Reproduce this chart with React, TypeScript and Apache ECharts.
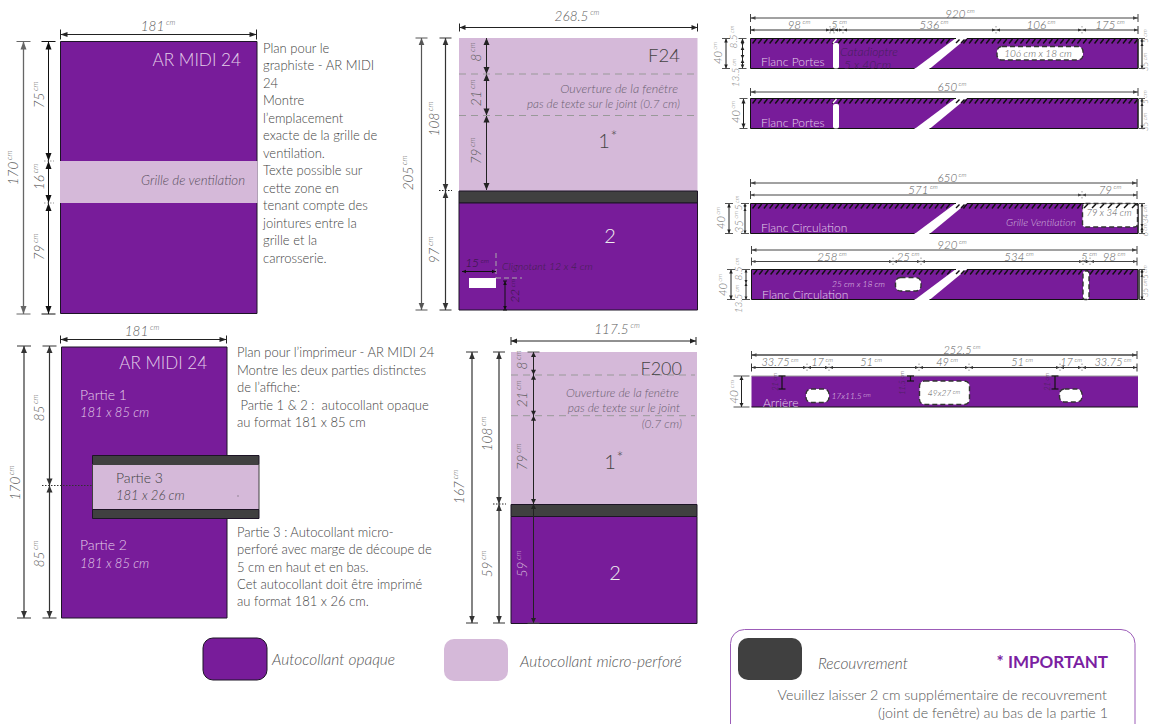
import React, { useEffect, useRef } from "react";
import * as echarts from "echarts";

// ---------- values (centimetres and texts) ----------
const armidiTotalCm = ["181", "170"];
const armidiHeightsCm = ["75", "16", "79"];
const armidiPartsCm = ["85", "85"];
const f24TotalCm = ["268.5", "205"];
const f24MainCm = ["108", "97"];
const f24InnerCm = ["8", "21", "79"];
const f24BlinkerCm = ["15", "22"];
const f200TotalCm = ["117.5", "167"];
const f200MainCm = ["108", "59"];
const f200InnerCm = ["8", "21", "79", "59"];
const portesTopCm = ["920", "650"];
const portesSegmentsCm = ["98", "5", "536", "106", "175"];
const stripHeightsCm = ["40", "8.5", "13.5", "5", "35"];
const circTopCm = ["650", "920"];
const circ1SegmentsCm = ["571", "79"];
const circ1SideCm = ["34", "6"];
const circ2SegmentsCm = ["258", "25", "534", "5", "98"];
const rearTotalCm = ["252.5"];
const rearSegmentsCm = ["33.75", "17", "51", "49", "51", "17", "33.75"];
const rearDropsCm = ["21", "11.5", "21"];
const rearHoleLabels = ["17x11.5", "49x27"];

const planGraphisteLines = ["Plan pour le", "graphiste - AR MIDI", "24", "Montre", "l’emplacement", "exacte de la grille de", "ventilation.", "Texte possible sur", "cette zone en", "tenant compte des", "jointures entre la", "grille et la", "carrosserie."];
const planImprimeurLines = ["Plan pour l’imprimeur - AR MIDI 24", "Montre les deux parties distinctes", "de l’affiche:", " Partie 1 & 2 :  autocollant opaque", "au format 181 x 85 cm"];
const partie3Lines = ["Partie 3 : Autocollant micro-", "perforé avec marge de découpe de", "5 cm en haut et en bas.", "Cet autocollant doit être imprimé", "au format 181 x 26 cm."];
const legendLabels = ["Autocollant opaque", "Autocollant micro-perforé", "Recouvrement"];
const importantLines = ["* IMPORTANT", "Veuillez laisser 2 cm supplémentaire de recouvrement", "(joint de fenêtre) au bas de la partie 1"];

// ---------- styles ----------
const PURPLE = "#781c9a";
const LIGHT = "#d5b9d9";
const DARK = "#404040";
const EDGE = "#1d1426";
const INK = "#444444";
const GREY = "#5c5c5c";
const PALE = "#e3cfe9";
const FONT = "Lato";

type Mark = any;
const marks: Mark[] = [];

const rect = (x: number, y: number, w: number, h: number, fill: string, o: any = {}) => marks.push({ k: "rect", x, y, w, h, fill, ...o });
const line = (x1: number, y1: number, x2: number, y2: number, stroke: string, lw = 1, dash?: number[]) => marks.push({ k: "line", x1, y1, x2, y2, stroke, lw, dash });
const poly = (pts: number[][], fill: string) => marks.push({ k: "poly", pts, fill });
const text = (x: number, y: number, t: string, o: any = {}) => marks.push({ k: "text", x, y, t, size: 13, color: INK, align: "left", ...o });
const dim = (x: number, y: number, v: string, o: any = {}) => marks.push({ k: "dim", x, y, v, size: 13.5, color: GREY, ...o });

// chain of horizontal dimension arrows
function hChain(y: number, xs: number[], color = "#222", tick = 4, alen = 6, ah = 2.5, lw = 1) {
  line(xs[0], y, xs[xs.length - 1], y, color, lw);
  line(xs[0], y - tick, xs[0], y + tick, color, 1);
  line(xs[xs.length - 1], y - tick, xs[xs.length - 1], y + tick, color, 1);
  for (let i = 0; i + 1 < xs.length; i++) {
    poly([[xs[i], y], [xs[i] + alen, y - ah], [xs[i] + alen, y + ah]], color);
    poly([[xs[i + 1], y], [xs[i + 1] - alen, y - ah], [xs[i + 1] - alen, y + ah]], color);
    if (i > 0) line(xs[i], y - 4, xs[i], y + 4, "#999", 1, [1.5, 1.5]);
  }
}
// chain of vertical dimension arrows
function vChain(x: number, ys: number[], color = "#222", tick = 7, alen = 7, ah = 3, lw = 1) {
  line(x, ys[0], x, ys[ys.length - 1], color, lw);
  line(x - tick, ys[0], x + tick, ys[0], color === "#222" ? "#555" : color, 1);
  line(x - tick, ys[ys.length - 1], x + tick, ys[ys.length - 1], color === "#222" ? "#555" : color, 1);
  for (let i = 0; i + 1 < ys.length; i++) {
    poly([[x, ys[i]], [x - ah, ys[i] + alen], [x + ah, ys[i] + alen]], color);
    poly([[x, ys[i + 1]], [x - ah, ys[i + 1] - alen], [x + ah, ys[i + 1] - alen]], color);
  }
}
const outline = (x: number, y: number, w: number, h: number, lw = 1) => rect(x, y, w, h, "none", { stroke: EDGE, lw });

// long side panels of the vehicle
function strip(x0: number, x1: number, y0: number, y1: number, diagonal = true) {
  rect(x0, y0, x1 - x0, y1 - y0, PURPLE);
  for (let x = x0 + 2; x < x1 - 3; x += 5.7) line(x, y0 + 5, x + 3.5, y0 + 0.5, "#111", 1.4);
  if (diagonal) {
    poly([[914.5, y1 + 0.5], [929.5, y1 + 0.5], [967, y0 - 0.5], [956, y0 - 0.5]], "#ffffff");
    line(956, y0 + 4.5, 959.5, y0 + 1, "#111", 1.4);
    line(961, y0 + 4.5, 964.5, y0 + 1, "#111", 1.4);
  }
  line(x0, y0, diagonal ? 956 : x1, y0, "#111", 1);
  if (diagonal) line(967, y0, x1, y0, "#111", 1);
  line(x0, y1, diagonal ? 914.5 : x1, y1, "#111", 1);
  if (diagonal) line(929.5, y1, x1, y1, "#111", 1);
  line(x0, y0, x0, y1, "#111", 1);
  line(x1, y0, x1, y1, "#222", 1.6);
}
const hole = (x: number, y: number, w: number, h: number, r = 5) => rect(x, y, w, h, "#ffffff", { stroke: "#333", lw: 1.4, dash: [5, 3], r });
const sDim = { size: 11.5, color: GREY };
const sideDim = { size: 10, color: "#808080", rot: 90 };
const edgeDim = { size: 8, color: "#808080", rot: 90 };

function panelArMidiTop() {
  rect(60.5, 41.5, 196.5, 272, PURPLE);
  outline(60.5, 41.5, 196.5, 272);
  rect(60, 161, 197.5, 42, LIGHT);
  hChain(34.5, [60.5, 256.5], "#222", 5, 7, 2.5);
  dim(158, 26, armidiTotalCm[0]);
  vChain(23.5, [41.5, 314], "#666", 7, 8, 3, 1.3);
  vChain(48.5, [41.5, 161, 203, 314], "#111", 7, 8, 3);
  line(44, 161, 54, 161, "#999", 1, [1.5, 1.5]);
  line(44, 203, 54, 203, "#999", 1, [1.5, 1.5]);
  dim(13, 168, armidiTotalCm[1], { rot: 90 });
  dim(39, 95, armidiHeightsCm[0], { rot: 90 });
  dim(39, 177, armidiHeightsCm[1], { rot: 90 });
  dim(39, 247, armidiHeightsCm[2], { rot: 90 });
  text(241, 59, "AR MIDI 24", { size: 17.2, color: PALE, align: "right" });
  text(245, 180, "Grille de ventilation", { size: 13.3, italic: true, color: "#5a5060", align: "right" });
  planGraphisteLines.forEach((l, i) => text(263, 47.5 + i * 17.5, l));
}

function panelF24() {
  rect(459, 38, 238.5, 153, LIGHT);
  rect(459, 191, 238.5, 12, DARK, { stroke: EDGE, lw: 1 });
  rect(459, 203, 238.5, 107, PURPLE, { stroke: EDGE, lw: 1 });
  hChain(27.5, [459.5, 697.5], "#222", 4, 6, 2.5);
  dim(577, 16, f24TotalCm[0]);
  vChain(421.5, [38, 310], "#555", 6, 7, 2.8, 1.2);
  vChain(445.5, [38, 191, 310], "#333", 6, 7, 2.8, 1.2);
  line(439, 190.5, 452, 190.5, "#222", 1, [1.5, 1.5]);
  dim(408, 173, f24TotalCm[1], { rot: 90 });
  dim(434, 119, f24MainCm[0], { rot: 90 });
  dim(434, 250, f24MainCm[1], { rot: 90 });
  vChain(486.5, [38, 74, 115.5, 190], "#222", 0, 7, 3);
  line(459, 74, 695, 74, "#999", 1, [7, 5]);
  line(459, 115.5, 695, 115.5, "#999", 1, [7, 5]);
  dim(476, 52, f24InnerCm[0], { rot: 90 });
  dim(476, 93, f24InnerCm[1], { rot: 90 });
  dim(476, 151, f24InnerCm[2], { rot: 90 });
  text(680, 55, "F24", { size: 18.5, align: "right" });
  text(678, 88, "Ouverture de la fenêtre", { size: 12.5, italic: true, color: "#6a6070", align: "right" });
  text(680, 103, "pas de texte sur le joint (0.7 cm)", { size: 11.8, italic: true, color: "#6a6070", align: "right" });
  text(604, 140, "1", { size: 20, align: "center" });
  text(614, 135, "*", { size: 16, align: "center" });
  text(610, 235, "2", { size: 20, color: "#eeeeee", align: "center" });
  rect(469, 278, 27, 10, "#ffffff");
  line(496, 253, 496, 278, "#aaa", 1, [5, 3]);
  line(496, 278, 522, 278, "#aaa", 1, [5, 3]);
  hChain(271.5, [462, 496], "#111", 0, 4, 1.8);
  dim(477, 262, f24BlinkerCm[0], { color: "#2d1738", size: 12 });
  text(502, 266, "Clignotant 12 x 4 cm", { size: 10.5, italic: true, color: "#3d2149" });
  vChain(505, [281, 310], "#111", 2, 4, 1.8);
  dim(514, 291, f24BlinkerCm[1], { rot: 90, color: "#2d1738", size: 12 });
}

function panelPortes1() {
  strip(750.5, 1138, 38.5, 68.5);
  rect(833, 43, 6, 25.5, "#ffffff", { r: 2 });
  line(833, 43, 836.5, 39, "#fff", 1.5);
  hChain(18, [750.5, 1138], "#444", 4, 5, 1.8);
  dim(960, 13, portesTopCm[0], sDim);
  hChain(30, [750.5, 830, 834, 843, 996, 1082, 1138], "#333", 4, 4, 1.5);
  [799, 839, 934, 1041, 1110].forEach((x, i) => dim(x, 24, portesSegmentsCm[i], sDim));
  vChain(726, [38.5, 68.5], "#222", 4, 4, 1.8);
  vChain(742.5, [38.5, 46, 59, 68.5], "#222", 4, 4, 1.8);
  dim(717, 53, stripHeightsCm[0], { ...sideDim, size: 11 });
  dim(733, 37, stripHeightsCm[1], sideDim);
  dim(735, 73, stripHeightsCm[2], sideDim);
  vChain(1142, [38.5, 43, 68.5], "#222", 3, 3, 1.5);
  dim(1145, 36, stripHeightsCm[3], edgeDim);
  dim(1145, 62, stripHeightsCm[4], edgeDim);
  text(761, 61, "Flanc Portes", { size: 12, color: PALE });
  text(840, 51, "Catadioptre", { size: 12, italic: true, color: "#45205a" });
  text(844, 64, "5 x 40cm", { size: 12, italic: true, color: "#45205a" });
  hole(997, 46.5, 86, 13.5);
  text(1038, 53, "106 cm x 18 cm", { size: 10, italic: true, align: "center", color: "#555" });
}

function panelPortes2() {
  strip(750.5, 1138, 98.5, 128.5);
  rect(833, 104, 6, 24.5, "#ffffff", { r: 2 });
  line(833, 103, 836.5, 99, "#fff", 1.5);
  hChain(92, [750.5, 1138], "#444", 4, 5, 1.8);
  dim(952, 86, portesTopCm[1], sDim);
  vChain(743.5, [98.5, 128.5], "#222", 4, 5, 2);
  dim(735, 112, stripHeightsCm[0], { ...sideDim, size: 11 });
  vChain(1142, [98.5, 103, 128.5], "#222", 3, 3, 1.5);
  dim(1145, 97, stripHeightsCm[3], edgeDim);
  dim(1145, 122, stripHeightsCm[4], edgeDim);
  text(761, 122, "Flanc Portes", { size: 12, color: PALE });
}

function panelCirculation1() {
  strip(750.5, 1138, 203.5, 233.5);
  rect(1082.5, 203.5, 55, 23.5, "#ffffff", { stroke: "#333", lw: 1.4, dash: [5, 3], r: 3 });
  for (let x = 1084; x < 1134; x += 8) line(x, 208, x + 4, 204, "#111", 1.4);
  hChain(183, [750.5, 1137], "#444", 4, 5, 1.8);
  dim(952, 177.5, circTopCm[0], sDim);
  hChain(195, [750.5, 1082, 1137], "#444", 4, 4, 1.5);
  dim(923, 189.5, circ1SegmentsCm[0], sDim);
  dim(1110, 189, circ1SegmentsCm[1], sDim);
  vChain(729, [203.5, 233.5], "#222", 4, 4, 1.8);
  vChain(745, [203.5, 208, 233.5], "#222", 4, 3, 1.5);
  dim(720, 218, stripHeightsCm[0], { ...sideDim, size: 11 });
  dim(738, 203, stripHeightsCm[3], sideDim);
  dim(738, 222, stripHeightsCm[4], { ...sideDim, size: 11 });
  vChain(1142, [203.5, 227, 233.5], "#222", 3, 3, 1.5);
  dim(1145, 214, circ1SideCm[0], edgeDim);
  dim(1145, 230, circ1SideCm[1], edgeDim);
  text(761, 227, "Flanc Circulation", { size: 12, color: PALE });
  text(1076, 221.5, "Grille Ventilation", { size: 10.5, italic: true, color: "#cfb6db", align: "right" });
  text(1109, 212.5, "79 x 34 cm", { size: 9.5, italic: true, color: "#555", align: "center" });
}

function panelCirculation2() {
  strip(751.5, 1138, 269.5, 299.5);
  line(1139.5, 269.5, 1139.5, 299.5, "#555", 1);
  hole(895.5, 277.5, 25.5, 13.5);
  hole(1083, 271, 6, 28.5, 2);
  hChain(250, [751.5, 1137], "#444", 4, 5, 1.8);
  dim(952, 244, circTopCm[1], sDim);
  hChain(261.5, [751.5, 893, 921, 1083, 1090, 1137], "#444", 4, 4, 1.5);
  [832, 908, 1019, 1089, 1114].forEach((x, i) => dim(x, 256, circ2SegmentsCm[i], sDim));
  vChain(731, [269.5, 299.5], "#222", 4, 4, 1.8);
  vChain(746, [269.5, 283, 299.5], "#222", 4, 3, 1.5);
  dim(722, 285, stripHeightsCm[0], { ...sideDim, size: 11 });
  dim(738, 269, stripHeightsCm[1], sideDim);
  dim(738, 299, stripHeightsCm[2], sideDim);
  vChain(1142, [269.5, 274, 299.5], "#222", 3, 3, 1.5);
  dim(1145, 272, stripHeightsCm[3], edgeDim);
  dim(1145, 288, stripHeightsCm[4], edgeDim);
  text(762, 294, "Flanc Circulation", { size: 12, color: PALE });
  text(885, 283.5, "25 cm x 18 cm", { size: 8.5, italic: true, color: PALE, align: "right" });
}

function panelRear() {
  rect(751.5, 376, 386.5, 31, PURPLE);
  line(751.5, 376, 1138, 376, "#999", 1);
  line(751.5, 407, 1138, 407, "#111", 1);
  hChain(355, [751.5, 1137], "#444", 4, 5, 1.8, 1.3);
  dim(962, 349, rearTotalCm[0], { ...sDim, size: 11 });
  hChain(367.5, [751.5, 807, 829, 919, 969, 1060, 1082, 1137], "#333", 4, 4, 1.5);
  [780, 822, 871, 947, 1022, 1071, 1113].forEach((x, i) => dim(x, 361.5, rearSegmentsCm[i], { ...sDim, size: 11 }));
  vChain(741.5, [376, 407], "#222", 8, 4, 2);
  dim(733, 392, stripHeightsCm[0], { ...sideDim, size: 12 });
  hole(806, 389, 23, 13.5);
  hole(919.5, 381, 50, 23.5);
  hole(1059.5, 389, 22.5, 13);
  [[782, 389], [910.5, 381], [1055, 389]].forEach(([x, y]) => {
    line(x, 376, x, y, "#111", 1.2);
    line(x - 3.5, 376, x + 3.5, 376, "#111", 1.2);
    line(x - 3.5, y, x + 3.5, y, "#111", 1.2);
  });
  dim(775, 382, rearDropsCm[0], { rot: 90, size: 7.5, color: "#3a2545" });
  dim(902, 383, rearDropsCm[1], { rot: 90, size: 7.5, color: "#3a2545" });
  dim(1047, 382, rearDropsCm[2], { rot: 90, size: 7.5, color: "#3a2545" });
  text(763, 402, "Arrière", { size: 12, color: PALE });
  dim(851, 396, rearHoleLabels[0], { size: 8.5, color: PALE });
  dim(944, 393, rearHoleLabels[1], { size: 8.5, color: "#555" });
}

function panelPrinter() {
  rect(61.5, 347, 165.5, 271, PURPLE);
  outline(61.5, 347, 165.5, 271);
  hChain(339.5, [60.5, 226.5], "#222", 4, 7, 2.5);
  dim(142, 331, armidiTotalCm[0]);
  vChain(24, [346, 618], "#333", 7, 7, 3, 1.2);
  vChain(49.5, [346, 485.5, 618], "#333", 7, 7, 3, 1.2);
  line(42, 485.5, 93, 485.5, "#333", 1, [1.5, 1.5]);
  dim(15, 483, armidiTotalCm[1], { rot: 90 });
  dim(39, 408, armidiPartsCm[0], { rot: 90 });
  dim(39, 554, armidiPartsCm[1], { rot: 90 });
  text(207, 362, "AR MIDI 24", { size: 17, color: PALE, align: "right" });
  text(80, 394, "Partie 1", { size: 14, color: PALE });
  text(80, 412, "181 x 85 cm", { italic: true, color: PALE });
  text(80, 544, "Partie 2", { size: 14, color: PALE });
  text(80, 563, "181 x 85 cm", { italic: true, color: PALE });
  rect(92.5, 455.5, 166.5, 9, DARK, { stroke: EDGE, lw: 1 });
  rect(92.5, 464.5, 166.5, 45, LIGHT, { stroke: DARK, lw: 1 });
  rect(92.5, 509.5, 166.5, 9, DARK, { stroke: EDGE, lw: 1 });
  text(116, 477, "Partie 3", { size: 14 });
  text(116, 495, "181 x 26 cm", { italic: true });
  rect(237.5, 495.5, 1, 1, "#555");
  planImprimeurLines.forEach((l, i) => text(237, 352 + i * 17.5, l));
  partie3Lines.forEach((l, i) => text(237, 532 + i * 17.3, l));
}

function panelF200() {
  rect(511, 352, 186, 152.5, LIGHT);
  rect(511, 504.5, 186, 12, DARK, { stroke: EDGE, lw: 1 });
  rect(511, 516.5, 186, 107, PURPLE, { stroke: EDGE, lw: 1 });
  hChain(341, [511, 696], "#222", 4, 6, 2.5);
  dim(617, 329, f200TotalCm[0]);
  vChain(472, [352, 623], "#333", 6, 7, 2.8, 1.2);
  vChain(499, [352, 504, 623], "#333", 6, 7, 2.8, 1.2);
  line(493, 504, 506, 504, "#222", 1, [1.5, 1.5]);
  dim(459, 487, f200TotalCm[1], { rot: 90 });
  dim(487, 434, f200MainCm[0], { rot: 90 });
  dim(487, 564, f200MainCm[1], { rot: 90 });
  line(511, 375, 695, 375, "#999", 1, [7, 5]);
  line(511, 415.7, 695, 415.7, "#999", 1, [7, 5]);
  vChain(533.5, [352, 374.7, 415.7, 504, 623], "#222", 6, 5, 2.5);
  [360, 394, 457, 564].forEach((y, i) => dim(522, y, f200InnerCm[i], { rot: 90, color: i === 3 ? LIGHT : GREY }));
  text(682, 368, "F200", { size: 18, align: "right" });
  text(679, 392, "Ouverture de la fenêtre", { size: 12, italic: true, color: "#6a6070", align: "right" });
  text(680, 407, "pas de texte sur le joint", { size: 12, italic: true, color: "#6a6070", align: "right" });
  text(682, 423, "(0.7 cm)", { size: 12, italic: true, color: "#6a6070", align: "right" });
  text(610, 461, "1", { size: 20, align: "center" });
  text(620, 456, "*", { size: 16, align: "center" });
  text(615, 572, "2", { size: 20, color: "#eeeeee", align: "center" });
}

function legend() {
  rect(203, 638, 64, 42, PURPLE, { stroke: EDGE, lw: 1, r: 10 });
  text(272, 659, legendLabels[0], { size: 15.5, italic: true, color: "#555" });
  rect(444, 639, 64, 42, LIGHT, { r: 10 });
  text(520, 661, legendLabels[1], { size: 15.5, italic: true, color: "#555" });
  rect(730.5, 629.5, 404.5, 110, "none", { stroke: "#9c5cb8", lw: 1, r: 14 });
  rect(738, 638, 64, 42, DARK, { r: 10 });
  text(818, 663, legendLabels[2], { size: 15.5, italic: true, color: "#555" });
  text(1108, 661, importantLines[0], { size: 17, bold: true, color: "#7b1fa2", align: "right" });
  text(1107, 694, importantLines[1], { size: 14.3, color: "#555", align: "right" });
  text(1108, 712, importantLines[2], { size: 14.3, color: "#555", align: "right" });
}

panelArMidiTop();
panelF24();
panelPortes1();
panelPortes2();
panelCirculation1();
panelCirculation2();
panelRear();
panelPrinter();
panelF200();
legend();

function renderItem(params: any, api: any) {
  const m = marks[params.dataIndex];
  const P = (x: number, y: number) => api.coord([x, y]);
  if (m.k === "rect") {
    const [x, y] = P(m.x, m.y);
    const [x2, y2] = P(m.x + m.w, m.y + m.h);
    return {
      type: "rect",
      shape: { x, y, width: x2 - x, height: y2 - y, r: m.r || 0 },
      style: { fill: m.fill === "none" ? null : m.fill, stroke: m.stroke || null, lineWidth: m.lw || 0, lineDash: m.dash || null },
    };
  }
  if (m.k === "line") {
    const [x1, y1] = P(m.x1, m.y1);
    const [x2, y2] = P(m.x2, m.y2);
    return { type: "line", shape: { x1, y1, x2, y2 }, style: { stroke: m.stroke, lineWidth: m.lw, lineDash: m.dash || null, fill: null } };
  }
  if (m.k === "poly") {
    return { type: "polygon", shape: { points: m.pts.map((p: number[]) => P(p[0], p[1])) }, style: { fill: m.fill } };
  }
  const [x, y] = P(m.x, m.y);
  if (m.k === "dim") {
    const s = m.size;
    return {
      type: "text",
      x,
      y,
      rotation: m.rot ? (m.rot * Math.PI) / 180 : 0,
      style: {
        text: `{v|${m.v}}{u| cm}`,
        align: "center",
        verticalAlign: "middle",
        rich: {
          v: { fontFamily: FONT, fontWeight: 300, fontStyle: "italic", fontSize: s, fill: m.color, color: m.color, verticalAlign: "bottom" },
          u: { fontFamily: FONT, fontWeight: 300, fontStyle: "italic", fontSize: Math.max(6, s * 0.55), fill: m.color, color: m.color, verticalAlign: "top" },
        },
      },
    };
  }
  return {
    type: "text",
    x,
    y,
    style: {
      text: m.t,
      fill: m.color,
      fontFamily: FONT,
      fontSize: m.size,
      fontWeight: m.bold ? 700 : 300,
      fontStyle: m.italic ? "italic" : "normal",
      align: m.align,
      verticalAlign: "middle",
    },
  };
}

export default function App() {
  const ref = useRef<HTMLDivElement>(null);
  useEffect(() => {
    const chart = echarts.init(ref.current!, undefined, { renderer: "svg" });
    chart.setOption({
      animation: false,
      backgroundColor: "#ffffff",
      grid: { left: 0, top: 0, right: 0, bottom: 0, containLabel: false },
      xAxis: { type: "value", min: 0, max: 1150, show: false },
      yAxis: { type: "value", min: 0, max: 724, inverse: true, show: false },
      series: [
        {
          type: "custom",
          coordinateSystem: "cartesian2d",
          clip: false,
          silent: true,
          renderItem,
          data: marks.map(() => [0, 0]),
        },
      ],
    });
    return () => chart.dispose();
  }, []);
  return <div ref={ref} style={{ position: "fixed", left: 0, top: 0, width: 1150, height: 724 }} />;
}
